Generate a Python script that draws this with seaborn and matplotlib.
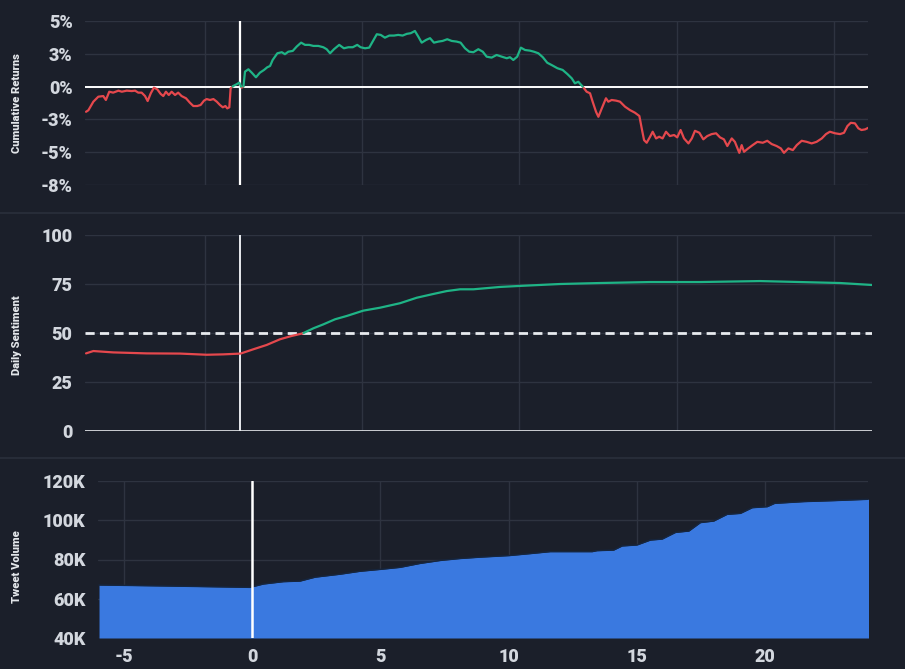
import numpy as np
import pandas as pd
import matplotlib
matplotlib.use("Agg")
import matplotlib.pyplot as plt
import seaborn as sns

# ---------------- data ----------------
ret_days = [-5.96, -5.87, -5.68, -5.49, -5.30, -5.20, -5.07, -4.92, -4.72, -4.59,
            -4.40, -4.21, -4.08, -3.96, -3.83, -3.70, -3.60, -3.48, -3.36, -3.23,
            -3.10, -3.00, -2.90, -2.79, -2.68, -2.55, -2.43, -2.30, -2.13, -1.98,
            -1.85, -1.70, -1.57, -1.44, -1.34, -1.21, -1.08, -0.95, -0.83, -0.72,
            -0.62, -0.55, -0.47, -0.42, -0.32, -0.19, -0.09, 0.00, 0.07, 0.13,
            0.26, 0.39, 0.55, 0.70, 0.86, 0.98, 1.09, 1.19, 1.37,
            1.54, 1.66, 1.79, 1.96, 2.11, 2.28, 2.43, 2.59, 2.75, 2.94,
            3.13, 3.26, 3.39, 3.54, 3.74, 3.92, 4.09, 4.26, 4.43, 4.56,
            4.73, 4.89, 5.02, 5.18, 5.33, 5.49, 5.66, 5.84, 6.00, 6.17,
            6.33, 6.48, 6.64, 6.77, 6.90, 7.07, 7.22, 7.37, 7.54, 7.70,
            7.88, 8.05, 8.24, 8.39, 8.56, 8.72,
            8.88, 9.07, 9.24, 9.39, 9.58, 9.77, 9.97, 10.16, 10.28, 10.41,
            10.56, 10.70, 10.86, 11.05, 11.20, 11.37, 11.54, 11.71, 11.92, 12.10,
            12.30, 12.48, 12.65, 12.77, 12.90, 13.07, 13.22, 13.35, 13.45, 13.58,
            13.67, 13.80, 13.96, 14.05, 14.18, 14.35, 14.50,
            14.69, 14.88, 15.07, 15.24, 15.33, 15.42, 15.52, 15.65, 15.75, 15.88,
            16.00, 16.13, 16.26, 16.41, 16.57, 16.69, 16.82, 16.95, 17.12, 17.25,
            17.37, 17.54, 17.69, 17.84, 18.01, 18.18, 18.33, 18.48, 18.61, 18.78,
            18.90, 19.07, 19.16, 19.25, 19.41, 19.58, 19.76, 19.97, 20.14, 20.31,
            20.50, 20.66, 20.78, 20.95, 21.12, 21.27, 21.46, 21.65, 21.84, 22.03,
            22.23, 22.39, 22.54, 22.74, 22.93, 23.08, 23.21, 23.34, 23.50, 23.63,
            23.75, 23.89, 24.01]
cum_returns = [-1.92, -1.80, -1.15, -0.77, -0.72, -1.02, -0.39, -0.46, -0.31, -0.39,
               -0.31, -0.34, -0.31, -0.46, -0.46, -0.72, -1.10, -0.51, -0.08, -0.21,
               -0.56, -0.72, -0.39, -0.64, -0.39, -0.64, -0.46, -0.72, -0.89, -1.23,
               -1.48, -1.48, -1.40, -1.07, -0.95, -1.02, -0.95, -1.15, -1.40, -1.58,
               -1.48, -1.66, -1.58, -0.13, 0.05, 0.18, 0.30, -0.08, 0.00, 1.14,
               1.32, 1.06, 0.71, 1.06, 1.27, 1.47, 1.57, 2.03, 2.54,
               2.62, 2.47, 2.66, 2.72, 3.05, 3.35, 3.18, 3.18, 3.10, 3.10,
               3.00, 2.85, 2.54, 2.85, 3.18, 2.92, 3.00, 3.00, 3.18, 3.00,
               2.92, 2.97, 3.43, 3.99, 3.94, 3.73, 3.89, 3.89, 3.94, 3.89,
               4.02, 4.07, 4.24, 3.81, 3.35, 3.56, 3.69, 3.35, 3.43, 3.48,
               3.61, 3.48, 3.43, 3.35, 2.92, 2.66,
               2.62, 2.85, 2.66, 2.28, 2.21, 2.41, 2.28, 2.16, 2.24, 2.03,
               2.28, 2.97, 2.79, 2.74, 2.66, 2.54, 2.24, 1.82, 1.60, 1.40,
               1.27, 0.96, 0.63, 0.25, 0.37, 0.00, -0.39, -0.51, -1.15, -1.92,
               -2.30, -1.66, -0.89, -1.15, -1.02, -1.07, -1.15,
               -1.53, -1.79, -1.99, -2.24, -3.18, -4.08, -4.28, -3.82, -3.44, -3.95,
               -3.82, -3.95, -3.44, -3.77, -3.69, -3.87, -3.31, -3.95, -4.33, -3.95,
               -3.37, -3.52, -4.02, -3.77, -3.62, -3.56, -3.87, -4.02, -4.53, -3.95,
               -4.21, -5.05, -4.46, -4.97, -4.71, -4.46, -4.21, -4.28, -4.13, -4.38,
               -4.53, -4.71, -5.05, -4.71, -4.84, -4.46, -4.13, -4.21, -4.33, -4.21,
               -3.95, -3.62, -3.44, -3.56, -3.62, -3.52, -3.01, -2.76, -2.80, -3.18,
               -3.31, -3.26, -3.14]

sent_days = [-5.96, -5.68, -4.92, -3.64, -2.36, -1.34, -0.70, -0.04, 0.45, 0.96,
             1.47, 1.92, 2.34, 2.75, 3.13, 3.58, 4.03, 4.66, 5.30, 6.07,
             6.71, 7.34, 7.86, 8.37, 8.88, 9.90, 10.63, 12.20, 13.73, 15.65,
             17.56, 19.86, 21.40, 22.93, 24.15]
sentiment = [39.6, 40.8, 40.1, 39.6, 39.5, 38.9, 39.1, 39.5, 41.7, 43.9,
             46.8, 48.5, 49.8, 52.4, 54.4, 57.0, 58.7, 61.4, 62.9, 65.2,
             68.0, 69.9, 71.4, 72.3, 72.3, 73.5, 74.0, 75.0, 75.5, 76.0,
             76.0, 76.5, 76.0, 75.5, 74.5]

vol_days = [-5.96, -3.33, -0.08, 0.44, 1.22, 1.87, 2.46, 3.43, 4.21, 5.03,
            5.77, 6.55, 7.33, 8.11, 8.89, 10.02, 10.84, 11.62, 13.25, 13.44,
            14.09, 14.42, 15.00, 15.52, 15.98, 16.50, 17.02, 17.47, 17.99, 18.51,
            19.03, 19.49, 20.07, 20.36, 21.50, 22.67, 24.04]
tweet_volume_k = [67.0, 66.5, 65.8, 67.5, 68.7, 69.0, 71.0, 72.5, 74.0, 75.0,
                  76.0, 78.0, 79.5, 80.5, 81.2, 82.0, 83.0, 84.0, 84.0, 84.5,
                  84.8, 86.9, 87.4, 89.9, 90.4, 93.8, 94.5, 98.8, 99.6, 103.0,
                  103.5, 106.4, 106.9, 108.6, 109.5, 110.0, 110.7]

ret_ticks = [5, 2.5, 0, -2.5, -5, -7.5]
ret_tick_labels = ["5%", "3%", "0%", "-3%", "-5%", "-8%"]
sent_ticks = [0, 25, 50, 75, 100]
vol_ticks = [40, 60, 80, 100, 120]
vol_tick_labels = ["40K", "60K", "80K", "100K", "120K"]
day_ticks = [-5, 0, 5, 10, 15, 20]
week_grid = [-1.40, 4.61, 10.63, 16.68, 22.70]

# ---------------- style ----------------
BG = "#1b1f2a"
GRID = "#2e3340"
TXT = "#d3d7de"
RED = "#e5484d"
GREEN = "#1fb486"
BLUE = "#3a79e0"
TICKW = "heavy"

sns.set_theme(style="dark")
plt.rcParams["font.family"] = ["Roboto", "DejaVu Sans"]
plt.rcParams["font.weight"] = "bold"

fig = plt.figure(figsize=(9.05, 6.69), dpi=100, facecolor=BG)
W, H = 905, 669


def add_ax(x0, y0, x1, y1):
    return fig.add_axes([x0 / W, 1 - y1 / H, (x1 - x0) / W, (y1 - y0) / H])


ax1 = add_ax(85, 21, 868, 185)
ax2 = add_ax(85, 235, 872, 431)
ax3 = add_ax(98, 481, 868, 638)

for ax in (ax1, ax2, ax3):
    ax.set_facecolor(BG)
    for s in ax.spines.values():
        s.set_visible(False)
    ax.grid(True, color=GRID, linewidth=1)
    ax.tick_params(axis="both", length=0, colors=TXT, labelsize=13)


def sign_segments(x, y, thr):
    rows = []
    seg = 0
    for i in range(len(x)):
        s = "pos" if y[i] >= thr else "neg"
        if i > 0:
            sp = "pos" if y[i - 1] >= thr else "neg"
            if s != sp:
                t = (thr - y[i - 1]) / (y[i] - y[i - 1])
                xc = x[i - 1] + t * (x[i] - x[i - 1])
                rows.append((xc, thr, seg, sp))
                seg += 1
                rows.append((xc, thr, seg, s))
        rows.append((x[i], y[i], seg, s))
    return pd.DataFrame(rows, columns=["x", "y", "seg", "sign"])


pal = {"pos": GREEN, "neg": RED}

# ---- panel 1: cumulative returns ----
df1 = sign_segments(ret_days, cum_returns, 0.0)
ax1.axhline(0, color="white", linewidth=1.4, zorder=2)
ax1.axvline(-0.05, color="white", linewidth=1.6, zorder=2)
sns.lineplot(data=df1, x="x", y="y", hue="sign", units="seg", estimator=None,
             sort=False, palette=pal, legend=False, linewidth=1.6, ax=ax1, zorder=3)
ax1.set_xlim(-6, 24)
ax1.set_ylim(-7.5, 5)
ax1.set_yticks(ret_ticks)
ax1.set_yticklabels(ret_tick_labels, fontweight=TICKW, color=TXT)
ax1.set_xticks(week_grid)
ax1.set_xticklabels([])
ax1.set_xlabel("")
ax1.set_ylabel("")
ax1.tick_params(axis="y", pad=9)

# ---- panel 2: sentiment ----
df2 = sign_segments(sent_days, sentiment, 50.0)
ax2.axhline(50, color="#e8eaee", linewidth=2, linestyle=(0, (3.3, 1.9)), zorder=2)
ax2.axhline(0, color="#e8eaee", linewidth=1.2, zorder=2)
ax2.axvline(-0.05, color="#e8eaee", linewidth=1.4, zorder=2)
sns.lineplot(data=df2, x="x", y="y", hue="sign", units="seg", estimator=None,
             sort=False, palette=pal, legend=False, linewidth=1.6, ax=ax2, zorder=3)
ax2.set_xlim(-6, 24.15)
ax2.set_ylim(0, 100)
ax2.set_yticks(sent_ticks)
ax2.set_yticklabels([str(t) for t in sent_ticks], fontweight=TICKW, color=TXT)
ax2.set_xticks(week_grid)
ax2.set_xticklabels([])
ax2.set_xlabel("")
ax2.set_ylabel("")
ax2.tick_params(axis="y", pad=9)

# ---- panel 3: tweet volume ----
df3 = pd.DataFrame({"day": vol_days, "vol": tweet_volume_k})
ax3.fill_between(df3["day"], 40, df3["vol"], color=BLUE, linewidth=0, zorder=2)
sns.lineplot(data=df3, x="day", y="vol", color="#16263f", linewidth=1.0,
             ax=ax3, zorder=3)
ax3.axvline(0, color="white", linewidth=1.8, zorder=4)
ax3.set_xlim(-6, 24)
ax3.set_ylim(40, 120)
ax3.set_yticks(vol_ticks)
ax3.set_yticklabels(vol_tick_labels, fontweight=TICKW, color=TXT)
ax3.set_xticks(day_ticks)
ax3.set_xticklabels([str(t) for t in day_ticks], fontweight=TICKW, color=TXT)
ax3.set_xlabel("")
ax3.set_ylabel("")
ax3.tick_params(axis="y", pad=9)
ax3.tick_params(axis="x", pad=7)

# panel separators
for yy in (213, 458):
    fig.add_artist(plt.Line2D([0, 1], [1 - yy / H, 1 - yy / H], color="#2a2f3b",
                              linewidth=1.2, transform=fig.transFigure))

# y labels
for txt, yc in (("Cumulative Returns", 103), ("Daily Sentiment", 335),
                ("Tweet Volume", 567)):
    fig.text(17 / W, 1 - yc / H, txt, rotation=90, ha="center", va="center",
             fontsize=8, fontweight="heavy", color="#e3e6ea")

fig.savefig("out.png", dpi=100, facecolor=BG)
